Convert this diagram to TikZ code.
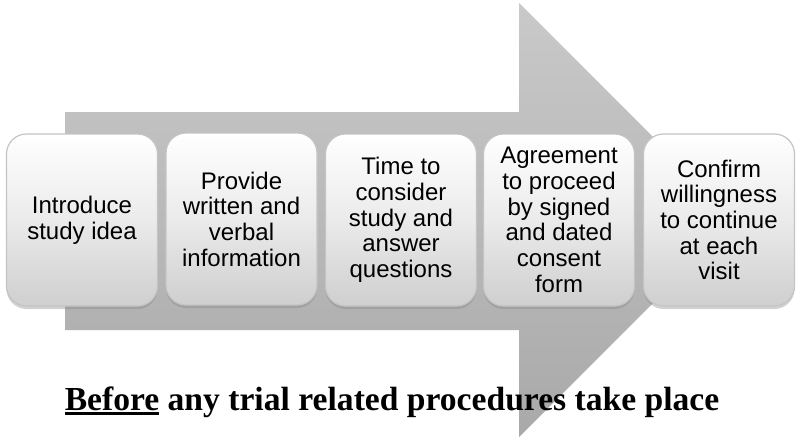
\documentclass[tikz,border=0pt]{standalone}
\usepackage{fontspec}
\setmainfont{Liberation Sans}
\newfontfamily\captionserif{Liberation Serif}
\usetikzlibrary{shadows}
\definecolor{arrowtop}{HTML}{C9C9C9}
\definecolor{arrowbot}{HTML}{A9A9A9}
\definecolor{boxedge}{HTML}{C4C4C4}
\definecolor{boxbot}{HTML}{CFCFCF}
\newcommand\thickul[1]{\setbox0\hbox{#1}\rlap{\rule[-4.5pt]{\wd0}{3pt}}\box0\relax}
\tikzset{
  stepbox/.style={rounded corners=20pt, minimum width=151pt, minimum height=172pt,
    top color=white, bottom color=boxbot, middle color=white!92!black,
    draw=boxedge, line width=1.2pt, align=center, inner sep=2pt,
    font=\fontsize{24}{25.7}\selectfont,
    drop shadow={shadow xshift=0pt, shadow yshift=-3pt, opacity=0.35}},
  bigarrow/.style={top color=arrowtop, bottom color=arrowbot, draw=none}
}
\begin{document}
\begin{tikzpicture}[x=1pt,y=-1pt]
\useasboundingbox (0,0) rectangle (800,442);
\fill[white] (0,0) rectangle (800,442);
\path[bigarrow] (65,112) -- (519,112) -- (519,3) -- (736,220) -- (519,437) -- (519,330) -- (65,330) -- cycle;
\node[stepbox] (b1) at (82,220) {Introduce\\study idea};
\node[stepbox] (b2) at (241.5,219) {Provide\\written and\\verbal\\information};
\node[stepbox] (b3) at (401,220) {Time to\\consider\\study and\\answer\\questions};
\node[stepbox] (b4) at (559,220) {Agreement\\to proceed\\by signed\\and dated\\consent\\form};
\node[stepbox] (b5) at (719,220) {Confirm\\willingness\\to continue\\at each\\visit};
\node[anchor=base, inner sep=0pt, font=\captionserif\bfseries\fontsize{33.6}{36}\selectfont] (cap) at (392,410) {\thickul{Before} any trial related procedures take place};
\end{tikzpicture}
\end{document}
